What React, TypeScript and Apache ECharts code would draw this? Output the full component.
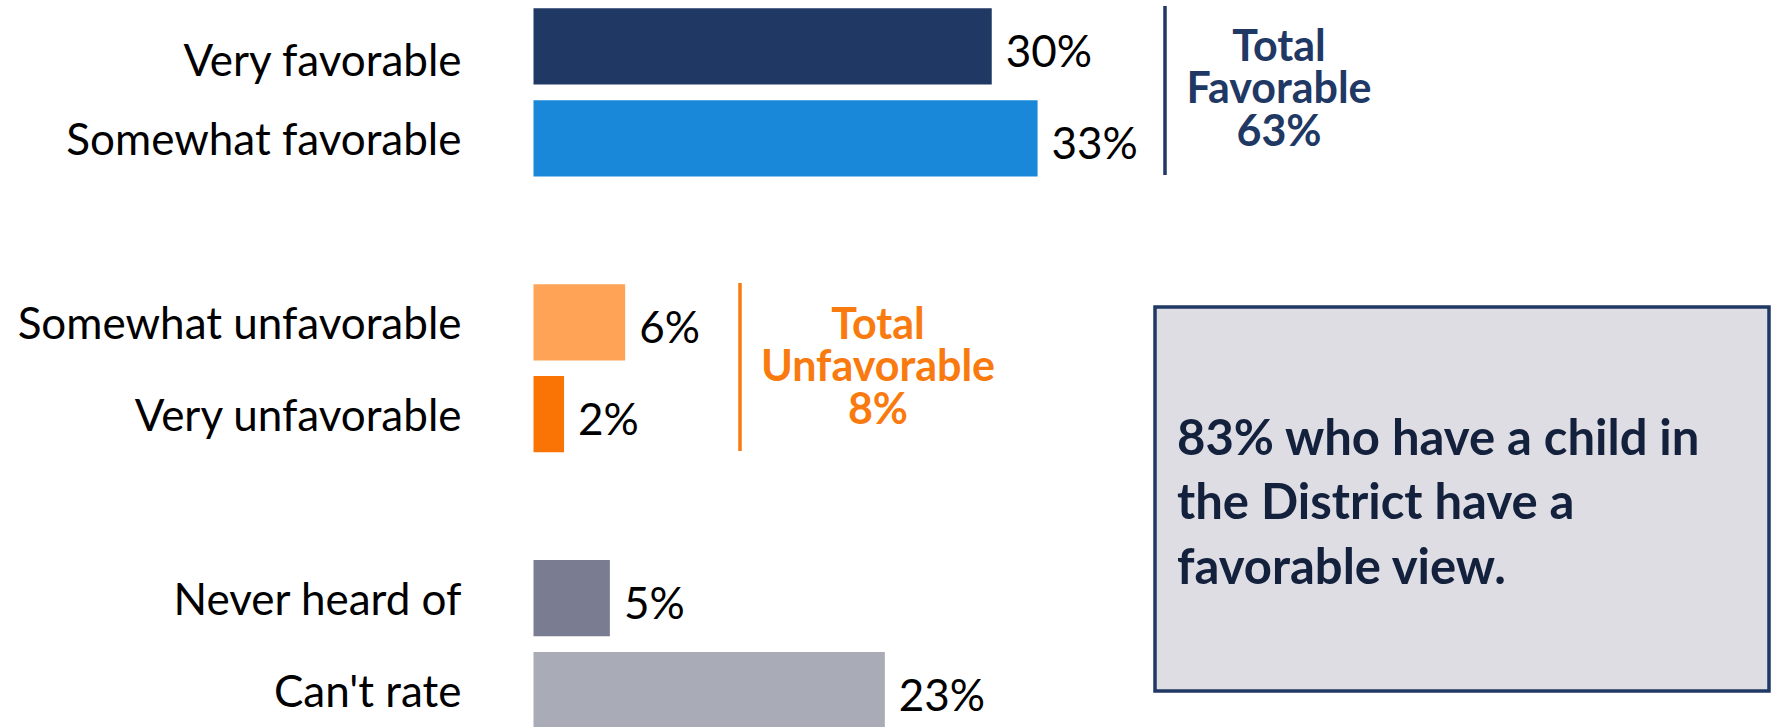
import React, { useEffect, useRef } from "react";
import * as echarts from "echarts";

const categories = [
  "Very favorable",
  "Somewhat favorable",
  "",
  "Somewhat unfavorable",
  "Very unfavorable",
  " ",
  "Never heard of",
  "Can't rate",
];
const values: (number | null)[] = [30, 33, null, 6, 2, null, 5, 23];
const barColors = ["#1F3864", "#1A88D8", "#ffffff", "#FFA356", "#F97305", "#ffffff", "#7A7C92", "#A9ABB7"];
const favorableTotal = (values[0] as number) + (values[1] as number);
const unfavorableTotal = (values[3] as number) + (values[4] as number);
const favorableLines = ["Total", "Favorable", `${favorableTotal}%`];
const unfavorableLines = ["Total", "Unfavorable", `${unfavorableTotal}%`];
const calloutText = "83% who have a child in\nthe District have a\nfavorable view.";

const FONT = "Lato, 'Open Sans', sans-serif";

function stackedText(lines: string[], cx: number, firstY: number, step: number, color: string) {
  return lines.map((t, i) => ({
    type: "text",
    x: cx,
    y: firstY + i * step,
    style: {
      text: t,
      fill: color,
      fontSize: 43,
      fontWeight: "bold",
      fontFamily: FONT,
      align: "center",
      verticalAlign: "middle",
    },
  }));
}

export default function App() {
  const ref = useRef<HTMLDivElement>(null);
  useEffect(() => {
    if (!ref.current) return;
    const chart = echarts.init(ref.current, undefined, { renderer: "svg" });
    chart.setOption({
      animation: false,
      grid: { left: 533.5, top: 0.5, width: 611, height: 735.5 },
      xAxis: { type: "value", min: 0, max: 40, show: false },
      yAxis: {
        type: "category",
        inverse: true,
        data: categories,
        axisLine: { show: false },
        axisTick: { show: false },
        splitLine: { show: false },
        axisLabel: {
          fontSize: 44,
          color: "#000",
          margin: 72,
          fontFamily: FONT,
          formatter: (v: string, i: number) => (i === 0 ? `{low|${v}}` : v),
          rich: {
            low: {
              fontSize: 44,
              color: "#000",
              fontFamily: FONT,
              padding: [26, 0, 0, 0],
            },
          },
        },
      },
      series: [
        {
          type: "bar",
          barCategoryGap: "17%",
          data: values.map((v, i) => ({
            value: v === null ? "-" : v,
            itemStyle: { color: barColors[i] },
          })),
          label: {
            show: true,
            position: "right",
            distance: 14,
            offset: [0, 4],
            formatter: "{c}%",
            fontSize: 44,
            color: "#000",
            fontFamily: FONT,
          },
        },
      ],
      graphic: [
        {
          type: "line",
          shape: { x1: 1165, y1: 6, x2: 1165, y2: 175 },
          style: { stroke: "#1F3864", lineWidth: 3.5 },
        },
        ...stackedText(favorableLines, 1279, 44, 42.5, "#1F3864"),
        {
          type: "line",
          shape: { x1: 740, y1: 283, x2: 740, y2: 451 },
          style: { stroke: "#F97A0E", lineWidth: 3.5 },
        },
        ...stackedText(unfavorableLines, 878, 322, 42.5, "#F97A0E"),
        {
          type: "rect",
          shape: { x: 1155, y: 307, width: 614, height: 384 },
          style: { fill: "#DEDDE3", stroke: "#1F3864", lineWidth: 3.5 },
        },
        {
          type: "text",
          x: 1177,
          y: 500,
          style: {
            text: calloutText,
            fill: "#13213D",
            fontSize: 49,
            fontWeight: "bold",
            fontFamily: FONT,
            lineHeight: 64.5,
            align: "left",
            verticalAlign: "middle",
          },
        },
      ],
    });
    return () => chart.dispose();
  }, []);
  return (
    <div style={{ position: "absolute", left: 0, top: 0, width: 1774, height: 727, overflow: "hidden" }}>
      <div ref={ref} style={{ width: 1774, height: 737 }} />
    </div>
  );
}
